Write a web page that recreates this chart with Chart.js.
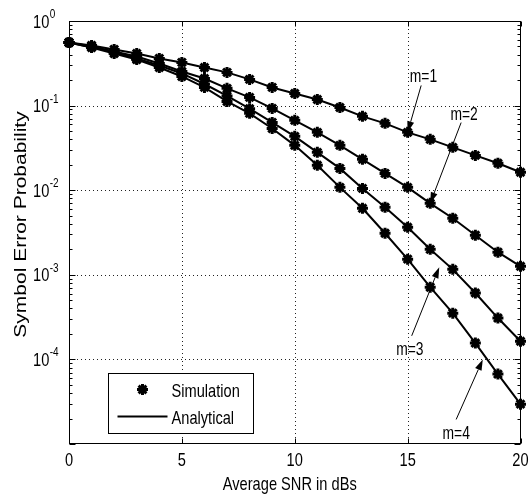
<!DOCTYPE html>
<html>
<head>
<meta charset="utf-8">
<script src="https://cdn.jsdelivr.net/npm/chart.js@4.4.1/dist/chart.umd.min.js"></script>
<style>
  html, body { margin: 0; padding: 0; background: #fff; }
  #wrap { width: 529px; height: 497px; }
</style>
</head>
<body>
<div id="wrap"><canvas id="serChart" width="529" height="497"></canvas></div>
<script>
// SER vs average SNR, Nakagami-m fading, m = 1..4
const snrDb = [0, 1, 2, 3, 4, 5, 6, 7, 8, 9, 10, 11, 12, 13, 14, 15, 16, 17, 18, 19, 20];
const serM1 = [0.557, 0.514, 0.461, 0.413, 0.361, 0.324, 0.282, 0.247, 0.204, 0.164, 0.139,
               0.118, 0.095, 0.0746, 0.0617, 0.0483, 0.0399, 0.0321, 0.0258, 0.0208, 0.0163];
const serM2 = [0.557, 0.50, 0.436, 0.381, 0.315, 0.253, 0.209, 0.160, 0.125, 0.0927, 0.0669,
               0.0483, 0.0339, 0.0232, 0.0158, 0.0108, 0.0070, 0.00466, 0.00294, 0.00185, 0.00126];
const serM3 = [0.557, 0.49, 0.43, 0.361, 0.298, 0.240, 0.180, 0.130, 0.092, 0.0633, 0.0433,
               0.0280, 0.0181, 0.0105, 0.00628, 0.00365, 0.0020, 0.00116, 0.00061, 0.000308, 0.000164];
const serM4 = [0.557, 0.486, 0.413, 0.35, 0.282, 0.221, 0.164, 0.112, 0.081, 0.0537, 0.0339,
               0.0197, 0.0108, 0.00611, 0.0031, 0.00153, 0.000714, 0.000352, 0.000156, 0.000067, 0.0000296];

const seriesList = [serM1, serM2, serM3, serM4];
const xTicks = [0, 5, 10, 15, 20];
const yDecades = [1, 1e-1, 1e-2, 1e-3, 1e-4];
const yExponents = ['0', '-1', '-2', '-3', '-4'];
const legendNames = ['Simulation', 'Analytical'];

// curve tags: text spot and arrow tip, in data units
const tags = [
  { text: 'm=1', tx: 15.7, ty: 0.227,   sx: 15.6,  sy: 0.173,   ex: 15,    ey: 0.0483 },
  { text: 'm=2', tx: 17.5, ty: 0.081,   sx: 17.37, sy: 0.063,   ex: 16,    ey: 0.0070 },
  { text: 'm=3', tx: 15.1, ty: 1.36e-4, sx: 15.18, sy: 1.9e-4,  ex: 16.4,  ey: 1.23e-3 },
  { text: 'm=4', tx: 17.15, ty: 1.39e-5, sx: 17.15, sy: 1.95e-5, ex: 18.33, ey: 1.0e-4 }
];

const FONT = '"Liberation Sans", Arial, sans-serif';
const SQ = 0.77; // glyphs come out narrow in this figure

function pts(arr) {
  return arr.map((v, i) => ({ x: snrDb[i], y: v }));
}

const datasets = [];
seriesList.forEach(s => {
  datasets.push({
    label: 'Analytical', data: pts(s), borderColor: '#000', borderWidth: 2,
    pointRadius: 0, tension: 0, fill: false, clip: false
  });
  datasets.push({
    label: 'Simulation', data: pts(s), showLine: false, pointStyle: 'star',
    pointRadius: 5.5, borderWidth: 3, borderColor: '#000', backgroundColor: '#000', clip: false
  });
});

function txt(ctx, s, x, y, size, align, rotate) {
  ctx.save();
  ctx.translate(x, y);
  ctx.scale(SQ, 1);
  if (rotate) ctx.rotate(-Math.PI / 2);
  ctx.font = size + 'px ' + FONT;
  ctx.textAlign = align || 'left';
  ctx.textBaseline = 'alphabetic';
  ctx.fillStyle = '#000';
  ctx.fillText(s, 0, 0);
  ctx.restore();
}

function textW(ctx, s, size) {
  ctx.save();
  ctx.font = size + 'px ' + FONT;
  const w = ctx.measureText(s).width * SQ;
  ctx.restore();
  return w;
}

function starMark(ctx, x, y, r) {
  ctx.save();
  ctx.strokeStyle = '#000';
  ctx.lineWidth = 3;
  ctx.beginPath();
  for (let k = 0; k < 4; k++) {
    const a = k * Math.PI / 4;
    ctx.moveTo(x - r * Math.sin(a), y - r * Math.cos(a));
    ctx.lineTo(x + r * Math.sin(a), y + r * Math.cos(a));
  }
  ctx.stroke();
  ctx.restore();
}

const axesPlugin = {
  id: 'matAxes',
  beforeDatasetsDraw(chart) {
    const { ctx, chartArea: a, scales: { x, y } } = chart;
    ctx.save();
    ctx.strokeStyle = '#222';
    ctx.lineWidth = 1;
    ctx.setLineDash([1, 3]);
    xTicks.slice(1, -1).forEach(t => {
      const px = Math.round(x.getPixelForValue(t)) + 0.5;
      ctx.beginPath(); ctx.moveTo(px, a.top); ctx.lineTo(px, a.bottom); ctx.stroke();
    });
    yDecades.slice(1).forEach(t => {
      const py = Math.round(y.getPixelForValue(t)) + 0.5;
      ctx.beginPath(); ctx.moveTo(a.left, py); ctx.lineTo(a.right, py); ctx.stroke();
    });
    ctx.restore();
  },
  afterDraw(chart) {
    const { ctx, chartArea: a, scales: { x, y } } = chart;
    const L = Math.round(a.left) + 0.5, R = Math.round(a.right) - 0.5;
    const T = Math.round(a.top) + 0.5, B = Math.round(a.bottom) - 0.5;
    ctx.save();
    ctx.strokeStyle = '#000';
    ctx.lineWidth = 1;
    ctx.strokeRect(L, T, R - L, B - T);

    // major x ticks, inside, top and bottom
    ctx.beginPath();
    xTicks.forEach(t => {
      const px = Math.round(x.getPixelForValue(t)) + 0.5;
      ctx.moveTo(px, B); ctx.lineTo(px, B - 5);
      ctx.moveTo(px, T); ctx.lineTo(px, T + 5);
    });
    // y ticks: decades plus log minors, on both sides
    for (let e = 0; e >= -5; e--) {
      for (let m = 1; m <= 9; m++) {
        const v = m * Math.pow(10, e);
        if (v > 1 || v < 1e-5) continue;
        const py = Math.round(y.getPixelForValue(v)) + 0.5;
        const len = m === 1 ? 6 : 3;
        ctx.moveTo(L, py); ctx.lineTo(L + len, py);
        ctx.moveTo(R, py); ctx.lineTo(R - len, py);
      }
    }
    ctx.stroke();
    ctx.restore();

    // tick labels
    xTicks.forEach(t => {
      txt(ctx, String(t), x.getPixelForValue(t), a.bottom + 22, 19, 'center');
    });
    yDecades.forEach((t, i) => {
      const py = y.getPixelForValue(t);
      const lx = 33;
      txt(ctx, '10', lx, py + 6.5, 19, 'left');
      txt(ctx, yExponents[i], lx + textW(ctx, '10', 19) + 0.5, py - 3, 13, 'left');
    });

    // axis titles
    txt(ctx, 'Average SNR in dBs', (a.left + a.right) / 2 - 5, a.bottom + 46, 19, 'center');
    txt(ctx, 'Symbol Error Probability', 26, (a.top + a.bottom) / 2 - 8, 21, 'center', true);

    // curve tags with arrows
    tags.forEach(g => {
      const tx = x.getPixelForValue(g.tx), ty = y.getPixelForValue(g.ty);
      const sx = x.getPixelForValue(g.sx), sy = y.getPixelForValue(g.sy);
      const ex = x.getPixelForValue(g.ex), ey = y.getPixelForValue(g.ey);
      txt(ctx, g.text, tx, ty + 7, 18, 'center');
      const ang = Math.atan2(ey - sy, ex - sx);
      const hl = 11, hw = 3.5;
      const bx = ex - hl * Math.cos(ang), by = ey - hl * Math.sin(ang);
      ctx.save();
      ctx.strokeStyle = '#000';
      ctx.fillStyle = '#000';
      ctx.lineWidth = 1;
      ctx.beginPath(); ctx.moveTo(sx, sy); ctx.lineTo(bx, by); ctx.stroke();
      ctx.beginPath();
      ctx.moveTo(ex, ey);
      ctx.lineTo(bx + hw * Math.sin(ang), by - hw * Math.cos(ang));
      ctx.lineTo(bx - hw * Math.sin(ang), by + hw * Math.cos(ang));
      ctx.closePath(); ctx.fill();
      ctx.restore();
    });

    // legend box
    const lx0 = Math.round(a.left + 39) + 0.5, ly0 = Math.round(a.top + 352) + 0.5;
    ctx.save();
    ctx.fillStyle = '#fff';
    ctx.fillRect(lx0, ly0, 145, 60);
    ctx.strokeStyle = '#000';
    ctx.lineWidth = 1;
    ctx.strokeRect(lx0, ly0, 145, 60);
    starMark(ctx, lx0 + 34, ly0 + 16, 5.5);
    ctx.lineWidth = 2;
    ctx.beginPath(); ctx.moveTo(lx0 + 9, ly0 + 43); ctx.lineTo(lx0 + 59, ly0 + 43); ctx.stroke();
    ctx.restore();
    txt(ctx, legendNames[0], lx0 + 63, ly0 + 23, 19, 'left');
    txt(ctx, legendNames[1], lx0 + 63, ly0 + 50, 19, 'left');
  }
};

new Chart(document.getElementById('serChart'), {
  type: 'line',
  data: { datasets },
  options: {
    responsive: false,
    animation: false,
    devicePixelRatio: 1,
    layout: { padding: { left: 69, top: 21, right: 4, bottom: 53 } },
    plugins: { legend: { display: false }, tooltip: { enabled: false } },
    scales: {
      x: { type: 'linear', min: 0, max: 20, display: false },
      y: { type: 'logarithmic', min: 1e-5, max: 1, display: false }
    }
  },
  plugins: [axesPlugin]
});
</script>
</body>
</html>
